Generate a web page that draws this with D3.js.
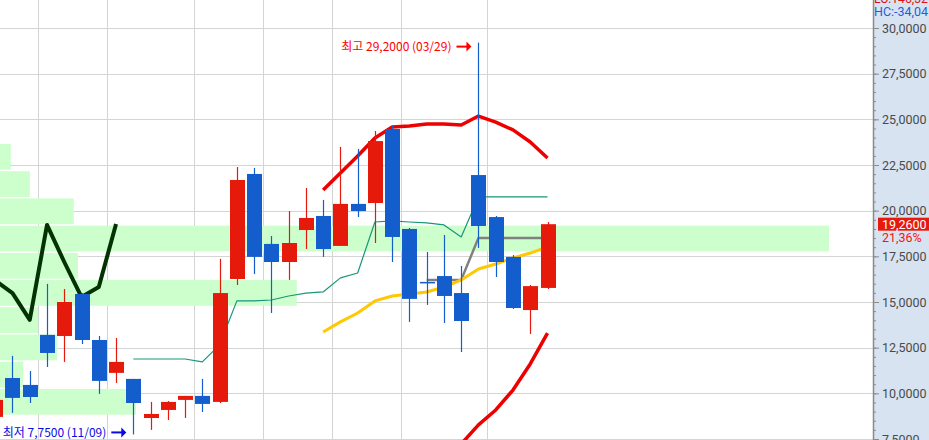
<!DOCTYPE html>
<html>
<head>
<meta charset="utf-8">
<script src="https://cdn.jsdelivr.net/npm/d3@7"></script>
<style>
  body { margin: 0; background: #fff; overflow: hidden; }
  svg { display: block; }
</style>
</head>
<body>
<div id="chart"></div>
<script>
// weekly candles (week start)
const weeks = ["2020-09-14","2020-09-21","2020-09-28","2020-10-05","2020-10-12","2020-10-19","2020-10-26",
  "2020-11-02","2020-11-09","2020-11-16","2020-11-23","2020-11-30","2020-12-07","2020-12-14","2020-12-21",
  "2020-12-28","2021-01-04","2021-01-11","2021-01-18","2021-01-25","2021-02-01","2021-02-08","2021-02-15",
  "2021-02-22","2021-03-01","2021-03-08","2021-03-15","2021-03-22","2021-03-29","2021-04-05","2021-04-12",
  "2021-04-19","2021-04-26"];
const open  = [8.71,10.84,10.46,13.20,13.14,15.44,12.92,11.12,10.79,8.65,9.09,9.64,9.86,9.53,16.26,22.01,18.18,
  17.19,18.94,19.71,18.07,20.37,20.42,24.47,19.00,16.10,16.42,15.49,21.95,19.65,17.47,14.56,15.77];
const high  = [9.70,12.05,11.22,15.99,15.71,15.49,13.14,13.03,10.79,9.53,9.58,9.86,10.79,17.36,22.39,22.34,18.61,
  19.98,21.24,20.59,23.49,23.38,24.36,24.64,19.05,17.74,18.67,16.97,29.20,19.71,17.57,15.93,19.38];
const low   = [8.60,8.93,9.47,11.44,11.72,12.70,9.97,10.57,7.75,8.00,8.54,8.65,8.98,9.47,15.93,16.53,14.40,
  16.21,17.90,17.47,18.07,19.65,18.23,17.19,13.91,14.84,13.85,12.26,17.96,16.37,14.62,13.25,15.71];
const close = [9.64,9.75,9.80,12.21,15.00,12.92,10.68,11.72,9.47,8.87,9.53,9.86,9.42,15.49,21.68,17.47,17.19,
  18.23,19.60,17.90,20.37,19.98,23.81,18.56,15.17,16.04,15.33,13.96,19.16,17.19,14.67,15.87,19.26];

// overlay lines: first week + values
const darkFrom = "2020-09-14";
const darkLine = [16.17,15.49,14.02,19.22,17.19,15.27,15.82,19.27];
const tealFrom = "2020-11-09";
const tealLine = [11.88,11.88,11.88,11.88,11.72,12.65,15.06,15.06,15.11,15.33,15.49,15.55,16.32,16.59,
  19.38,19.44,19.38,19.33,19.22,18.56,20.75,20.75,20.75,20.75,20.75];
const grayFrom = "2021-03-08";
const grayLine = [16.21,16.21,16.21,18.51,18.51,18.51,18.51,18.51];
const maFrom = "2021-01-25";
const maLine = [13.36,13.91,14.40,15.06,15.33,15.44,15.55,15.82,16.21,16.81,17.08,17.41,17.68,18.01];
const upperFrom = "2021-01-25";
const upperBand = [21.13,22.06,22.99,23.98,24.58,24.64,24.75,24.75,24.69,25.18,24.85,24.42,23.76,22.88];
const lowerFrom = "2021-03-15";
const lowerBand = [6.30,7.23,8.27,9.09,10.18,11.61,13.30];

// volume by price
const profileTop = [23.65,22.16,20.67,19.18,17.69,16.20,14.71,13.22,11.73,10.24];
const profileVol = [1.3,3.6,8.9,100,9.4,35.8,4.6,6.9,2.8,16.4];
const profileStep = 1.49;

const highLabel = "최고 29,2000 (03/29)";
const lowLabel = "최저 7,7500 (11/09)";
const topLabels = ["LC:146,32", "HC:-34,04"];

const W = 929, H = 440;
const plotRight = 873;

const x = d3.scalePoint().domain(weeks).range([-4.76, 547.5]);
const y = d3.scaleLinear().domain([7.5, 30]).range([439, 28]);
const xv = d3.scaleLinear().domain([0, 100]).range([0, 829]);
const fmt = v => d3.format(".4f")(v).replace(".", ",");

const svg = d3.select("#chart").append("svg")
  .attr("width", W).attr("height", H)
  .style("font-family", "Roboto, 'Noto Sans', sans-serif");

svg.append("clipPath").attr("id", "plot")
  .append("rect").attr("x", 0).attr("y", 0).attr("width", plotRight).attr("height", H);

// right axis panel
svg.append("rect").attr("x", plotRight).attr("y", 0)
  .attr("width", W - plotRight).attr("height", H).attr("fill", "#d7e3f1");

const plot = svg.append("g").attr("clip-path", "url(#plot)");

// grid
const majors = d3.range(7.5, 30.01, 2.5);
plot.selectAll(".hgrid").data(majors).enter().append("line")
  .attr("x1", 0).attr("x2", plotRight)
  .attr("y1", d => Math.round(y(d)) + 0.5).attr("y2", d => Math.round(y(d)) + 0.5)
  .attr("stroke", "#d4d4d4");

const monthBreaks = weeks.slice(1).filter((w, i) => w.slice(5, 7) !== weeks[i].slice(5, 7));
plot.selectAll(".vgrid").data(monthBreaks).enter().append("line")
  .attr("x1", d => Math.round(x(d) - x.step() / 2) + 0.5)
  .attr("x2", d => Math.round(x(d) - x.step() / 2) + 0.5)
  .attr("y1", 0).attr("y2", H)
  .attr("stroke", "#d4d4d4");

// price profile
plot.selectAll(".prof").data(profileTop).enter().append("rect")
  .attr("x", 0)
  .attr("y", d => y(d))
  .attr("width", (d, i) => xv(profileVol[i]))
  .attr("height", d => y(d - profileStep) - y(d) - 1.5)
  .attr("fill", "#ccffcc");

// lines
function series(from, vals) {
  const s = weeks.indexOf(from);
  return vals.map((v, i) => ({w: weeks[s + i], v: v}));
}
const line = d3.line().x(d => x(d.w)).y(d => y(d.v));

const lines = [
  {data: series(tealFrom, tealLine), color: "#17977a", width: 1.2},
  {data: series(grayFrom, grayLine), color: "#808080", width: 2.5},
  {data: series(maFrom, maLine), color: "#ffc800", width: 3},
  {data: series(upperFrom, upperBand), color: "#ee0000", width: 3.5},
  {data: series(lowerFrom, lowerBand), color: "#ee0000", width: 3.5},
  {data: series(darkFrom, darkLine), color: "#033303", width: 4}
];
plot.selectAll(".ln").data(lines).enter().append("path")
  .attr("d", d => line(d.data))
  .attr("fill", "none")
  .attr("stroke", d => d.color)
  .attr("stroke-width", d => d.width)
  .attr("stroke-linejoin", "round");

// candles
const up = "#e61a0b", down = "#135dcc";
const candles = plot.selectAll(".candle").data(weeks).enter().append("g");
candles.append("line")
  .attr("x1", d => Math.round(x(d)) + 0.5).attr("x2", d => Math.round(x(d)) + 0.5)
  .attr("y1", (d, i) => y(high[i])).attr("y2", (d, i) => y(low[i]))
  .attr("stroke", (d, i) => close[i] >= open[i] ? up : down)
  .attr("stroke-width", 1.2);
candles.append("rect")
  .attr("x", d => Math.round(x(d)) - 7)
  .attr("width", 15)
  .attr("y", (d, i) => y(Math.max(open[i], close[i])))
  .attr("height", (d, i) => Math.max(1.5, Math.abs(y(open[i]) - y(close[i]))))
  .attr("fill", (d, i) => close[i] >= open[i] ? up : down);

// high / low markers
const hi = d3.maxIndex(high), lo = d3.minIndex(low);
function marker(idx, price, dy, text, color) {
  const tip = x(weeks[idx]) - 7, yy = y(price) + dy;
  plot.append("line").attr("x1", tip - 15).attr("x2", tip - 4)
    .attr("y1", yy).attr("y2", yy).attr("stroke", color).attr("stroke-width", 2);
  plot.append("path")
    .attr("d", `M${tip - 5},${yy - 5}L${tip},${yy}L${tip - 5},${yy + 5}Z`)
    .attr("fill", color);
  plot.append("text").attr("x", tip - 20).attr("y", yy + 4.5)
    .attr("text-anchor", "end")
    .style("font-family", "'Noto Sans CJK KR', sans-serif")
    .style("font-size", "12px")
    .attr("fill", color).text(text);
}
marker(hi, high[hi], 4, highLabel, "#ff0000");
marker(lo, low[lo], -2, lowLabel, "#0a0ae6");

// axis
svg.append("line").attr("x1", plotRight + 0.5).attr("x2", plotRight + 0.5)
  .attr("y1", 0).attr("y2", H).attr("stroke", "#8a8a8a").attr("stroke-width", 1.5);

const minor = svg.append("g").attr("transform", `translate(${plotRight},0)`)
  .call(d3.axisRight(y).tickValues(d3.range(7.5, 30.01, 0.5)).tickSize(3).tickFormat(""));
const major = svg.append("g").attr("transform", `translate(${plotRight},0)`)
  .call(d3.axisRight(y).tickValues(majors).tickSize(6).tickPadding(3).tickFormat(fmt));
[minor, major].forEach(g => {
  g.select(".domain").remove();
  g.selectAll("line").attr("stroke", "#8a8a8a");
});
major.selectAll("text").attr("fill", "#4a4a4a").style("font-size", "12.5px")
  .style("font-family", "Roboto, sans-serif");

// last price box
const last = close[close.length - 1], prev = close[close.length - 2];
const ly = y(last);
svg.append("rect").attr("x", 878).attr("y", ly - 6.5).attr("width", W - 878).attr("height", 13)
  .attr("fill", "#e8180c");
svg.append("text").attr("x", 882).attr("y", ly + 5).attr("fill", "#fff")
  .style("font-size", "12.5px").text(fmt(last));
svg.append("text").attr("x", 882).attr("y", ly + 18).attr("fill", "#ff1010")
  .style("font-size", "12.5px")
  .text(d3.format(".2f")((last / prev - 1) * 100).replace(".", ",") + "%");

// top-right indicator labels
svg.selectAll(".tl").data(topLabels).enter().append("text")
  .attr("x", 874).attr("y", (d, i) => 3 + i * 13)
  .attr("fill", (d, i) => i === 0 ? "#e01010" : "#1f5fd6")
  .style("font-size", "13px")
  .attr("textLength", 54).attr("lengthAdjust", "spacingAndGlyphs")
  .text(d => d);
</script>
</body>
</html>
